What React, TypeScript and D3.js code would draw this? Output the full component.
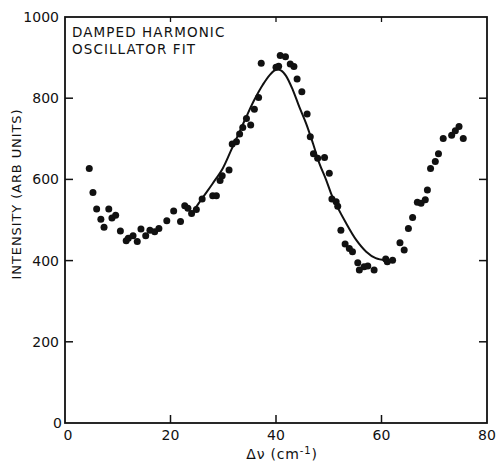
import React from "react";
import * as d3 from "d3";

const pointX = [4.6,5.3,6.0,6.8,7.4,8.3,8.9,9.6,10.5,11.6,12.0,12.9,13.7,14.4,15.3,16.1,17.0,17.8,19.3,20.6,21.9,22.7,23.3,24.0,24.9,26.0,28.0,28.7,29.4,29.8,31.1,31.7,32.5,33.1,33.7,34.4,35.2,35.9,36.7,37.2,40.0,40.5,40.8,41.8,42.7,43.4,44.0,44.9,45.9,46.5,47.1,47.9,49.2,50.1,50.6,51.4,51.7,52.3,53.1,53.9,54.5,55.5,55.8,56.7,57.4,58.6,60.8,61.1,62.1,63.5,64.3,65.1,65.9,66.8,67.5,68.3,68.7,69.3,70.2,70.8,71.7,73.3,74.0,74.7,75.5];
const pointY = [627,568,527,502,482,527,505,512,473,449,455,461,447,478,461,475,471,479,498,522,496,535,529,516,526,552,560,560,597,609,623,687,693,712,728,750,734,773,802,886,876,879,905,902,884,878,847,816,761,705,663,652,654,615,552,545,534,475,441,430,422,395,377,385,387,377,404,397,401,444,426,479,506,544,541,550,574,627,644,663,701,709,720,730,701];

const fitX = [24.0,26.2,28.0,29.9,31.5,32.8,34.4,35.9,37.5,38.8,40.0,41.0,41.9,43.2,44.4,45.7,47.0,48.2,49.5,50.7,53.3,55.2,57.1,58.9,60.8];
const fitY = [516,557,590,627,672,709,755,796,833,857,870,868,855,820,779,738,689,640,599,557,492,451,422,406,401];

const xTicks = [0,20,40,60,80];
const yTicks = [0,200,400,600,800,1000];
const titleLines = ["DAMPED HARMONIC","OSCILLATOR FIT"];
const yLabel = "INTENSITY (ARB UNITS)";

export default function App() {
  const W = 496, H = 468;
  const x = d3.scaleLinear().domain([0, 80]).range([65, 487]);
  const y = d3.scaleLinear().domain([0, 1000]).range([423, 17]);
  const line = d3.line<number>().x((d, i) => x(fitX[i])).y((d, i) => y(fitY[i])).curve(d3.curveCatmullRom.alpha(0.5));
  const font = "'DejaVu Sans', Verdana, sans-serif";
  const tk = 8;
  return (
    <svg width={W} height={H} style={{ position: "absolute", left: 0, top: 0, background: "#fff" }} fontFamily={font}>
      <rect x={x(0)} y={y(1000)} width={x(80) - x(0)} height={y(0) - y(1000)} fill="none" stroke="#111" strokeWidth={1.8} />
      {xTicks.slice(1, -1).map(t => (
        <g key={"xt" + t}>
          <line x1={x(t)} x2={x(t)} y1={y(0)} y2={y(0) - tk} stroke="#111" strokeWidth={1.5} />
          <line x1={x(t)} x2={x(t)} y1={y(1000)} y2={y(1000) + 5} stroke="#111" strokeWidth={1.3} />
        </g>
      ))}
      {yTicks.slice(1, -1).map(t => (
        <g key={"yt" + t}>
          <line x1={x(0)} x2={x(0) + tk} y1={y(t)} y2={y(t)} stroke="#111" strokeWidth={1.5} />
          <line x1={x(80)} x2={x(80) - tk} y1={y(t)} y2={y(t)} stroke="#111" strokeWidth={1.5} />
        </g>
      ))}
      {xTicks.map(t => (
        <text key={"xl" + t} x={x(t) + (t === 0 ? 3 : 0)} y={y(0) + 17} textAnchor="middle" fontSize={14} fill="#111">{t}</text>
      ))}
      {yTicks.map(t => (
        <text key={"yl" + t} x={x(0) - 6 + (t === 0 ? 3 : 0)} y={y(t) + 5} textAnchor="end" fontSize={14} fill="#111">{t}</text>
      ))}
      <text x={282} y={459} textAnchor="middle" fontSize={14} letterSpacing={0.8} fill="#111">
        Δν (cm<tspan dy={-5} fontSize={10}>-1</tspan><tspan dy={5}>)</tspan>
      </text>
      <text transform={`translate(21,194) rotate(-90)`} textAnchor="middle" fontSize={13} letterSpacing={0.9} fill="#111">{yLabel}</text>
      {titleLines.map((s, i) => (
        <text key={s} x={72} y={37 + i * 17} fontSize={13.5} letterSpacing={1.1} fill="#111">{s}</text>
      ))}
      <path d={line(fitX) || ""} fill="none" stroke="#111" strokeWidth={2} />
      {pointX.map((px, i) => (
        <circle key={"p" + i} cx={x(px)} cy={y(pointY[i])} r={3.5} fill="#111" />
      ))}
    </svg>
  );
}
